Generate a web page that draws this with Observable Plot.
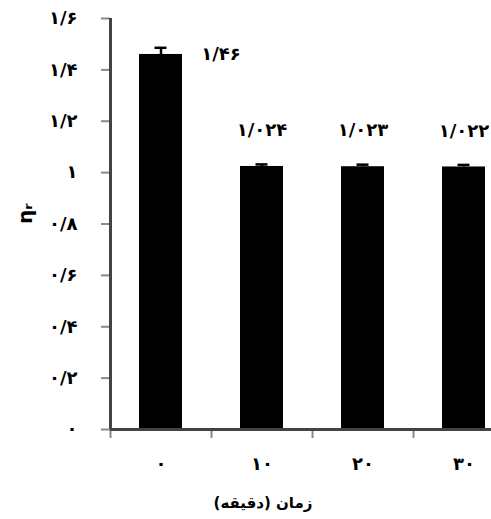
<!DOCTYPE html>
<html><head><meta charset="utf-8">
<script src="https://cdn.jsdelivr.net/npm/d3@7"></script>
<script src="https://cdn.jsdelivr.net/npm/@observablehq/plot@0.6"></script>
<style>body{margin:0;background:#fff;overflow:hidden} #chart svg{display:block;overflow:visible}</style>
</head><body><div id="chart"></div><script>
const categories = ["۰","۱۰","۲۰","۳۰"];
const values = [1.46, 1.024, 1.023, 1.022];
const errors = [0.026, 0.008, 0.008, 0.008];
const valueLabels = ["۱/۴۶","۱/۰۲۴","۱/۰۲۳","۱/۰۲۲"];
const yTicks = [0, 0.2, 0.4, 0.6, 0.8, 1, 1.2, 1.4, 1.6];
const yTickLabels = ["۰","۰/۲","۰/۴","۰/۶","۰/۸","۱","۱/۲","۱/۴","۱/۶"];
const yLabel = "ηᵣ";
const xTitle = "زمان (دقیقه)";

const data = categories.map((c, i) => ({c, v: values[i], e: errors[i], label: valueLabels[i], first: i === 0}));
const FONT = "DejaVu Sans";

const chart = Plot.plot({
  width: 491, height: 519,
  marginLeft: 110, marginRight: 0, marginTop: 18, marginBottom: 90,
  style: {fontFamily: FONT, fontSize: "15px", fontWeight: "bold", color: "#000", background: "#fff"},
  x: {domain: categories, range: [110, 514], paddingInner: 0.575, paddingOuter: 0.2875, align: 0.5},
  y: {domain: [0, 1.6]},
  marks: [
    Plot.barY(data, {x: "c", y: "v", fill: "#000"}),
    Plot.ruleX(data, {x: "c", y1: "v", y2: d => d.v + d.e, stroke: "#000", strokeWidth: 2.5}),
    Plot.tickY(data, {x: "c", y: d => d.v + d.e, stroke: "#000", strokeWidth: 2.5, insetLeft: 15.5, insetRight: 15.5}),
    Plot.text(data.filter(d => d.first), {x: "c", y: "v", text: "label", dx: 60, dy: 0, fontSize: 18, fontWeight: "bold", fill: "#000"}),
    Plot.text(data.filter(d => !d.first), {x: "c", y: "v", text: "label", dy: -36, fontSize: 18, fontWeight: "bold", fill: "#000"}),
    Plot.axisY({ticks: yTicks, tickFormat: d => yTickLabels[yTicks.indexOf(d)], tickSize: 9, tickPadding: 24, stroke: "#888", strokeWidth: 2, label: null, fontSize: 18, fontWeight: "bold"}),
    Plot.axisX({tickSize: 0, tickPadding: 28, label: null, fontSize: 18, fontWeight: "bold"}),
    Plot.axisX({tickSize: 9, text: null, dx: -50.5, stroke: "#888", strokeWidth: 2, label: null}),
    Plot.ruleY([0], {stroke: "#444", strokeWidth: 3}),
    Plot.ruleX([categories[0]], {x: d => d, y1: 0, y2: 1.6, dx: -50.5, stroke: "#444", strokeWidth: 3}),
    Plot.text([yLabel], {frameAnchor: "left", dx: -85, rotate: -90, fontSize: 20, fontWeight: "bold", fill: "#000"}),
    Plot.text([xTitle], {frameAnchor: "bottom", dx: -38, dy: 78, fontSize: 15, fontWeight: "bold", fill: "#000"})
  ]
});
document.getElementById("chart").appendChild(chart);
</script></body></html>
